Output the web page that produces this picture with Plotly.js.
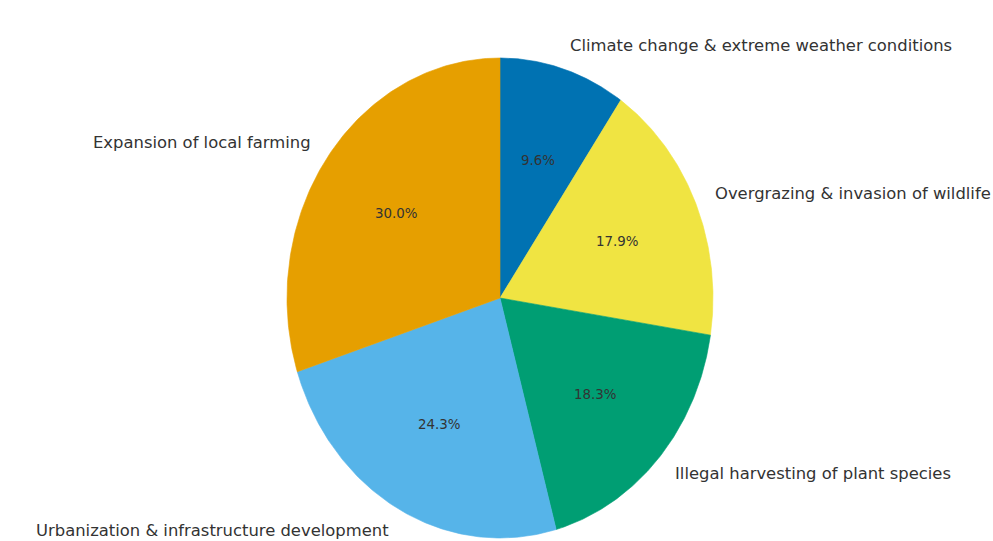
<!DOCTYPE html>
<html>
<head>
<meta charset="utf-8">
<script src="https://cdn.plot.ly/plotly-3.0.1.min.js"></script>
<style>html,body{margin:0;padding:0;background:#fff;}#chart{width:993px;height:541px;}</style>
</head>
<body>
<div id="chart"></div>
<script>
// Data (clockwise from 12 o'clock)
var categories = [
  "Climate change & extreme weather conditions",
  "Overgrazing & invasion of wildlife",
  "Illegal harvesting of plant species",
  "Urbanization & infrastructure development",
  "Expansion of local farming"
];
var values = [9.6, 17.9, 18.3, 24.3, 30.0];
var colors = ["#0072B2", "#F0E442", "#009E73", "#56B4E9", "#E69F00"];

var total = values.reduce(function(a, b) { return a + b; }, 0);
var traces = [];
var annotations = [];
var cum = 0;
var deg = Math.PI / 180;
for (var i = 0; i < values.length; i++) {
  var a0 = 90 - cum / total * 360;
  var a1 = 90 - (cum + values[i]) / total * 360;
  var xs = [0], ys = [0];
  var n = 120;
  for (var k = 0; k <= n; k++) {
    var a = (a0 + (a1 - a0) * k / n) * deg;
    xs.push(Math.cos(a)); ys.push(Math.sin(a));
  }
  xs.push(0); ys.push(0);
  traces.push({
    type: "scatter", mode: "lines", x: xs, y: ys, fill: "toself",
    fillcolor: colors[i], line: {color: colors[i], width: 0.6},
    hoverinfo: "skip", showlegend: false
  });
  var mid = ((a0 + a1) / 2) * deg;
  var lx = 1.1 * Math.cos(mid), ly = 1.1 * Math.sin(mid);
  annotations.push({
    x: lx, y: ly, xref: "x", yref: "y", text: categories[i], showarrow: false,
    xanchor: lx > 0 ? "left" : "right", yanchor: "middle",
    borderpad: 0, borderwidth: 0,
    font: {family: "DejaVu Sans", size: 16.4, color: "#333333"}
  });
  annotations.push({
    x: 0.6 * Math.cos(mid), y: 0.6 * Math.sin(mid), xref: "x", yref: "y",
    text: values[i].toFixed(1) + "%", showarrow: false,
    xanchor: "center", yanchor: "middle",
    borderpad: 0, borderwidth: 0,
    font: {family: "DejaVu Sans", size: 13.4, color: "#333333"}
  });
  cum += values[i];
}

var layout = {
  width: 993, height: 541,
  margin: {l: 0, r: 0, t: 0, b: 0},
  paper_bgcolor: "#ffffff", plot_bgcolor: "#ffffff",
  xaxis: {range: [-500 / 213, 493 / 213], visible: false, fixedrange: true},
  yaxis: {range: [-(541 - 298) / 240, 298 / 240], visible: false, fixedrange: true},
  annotations: annotations,
  showlegend: false
};
Plotly.newPlot("chart", traces, layout, {displayModeBar: false, staticPlot: true});
</script>
</body>
</html>
